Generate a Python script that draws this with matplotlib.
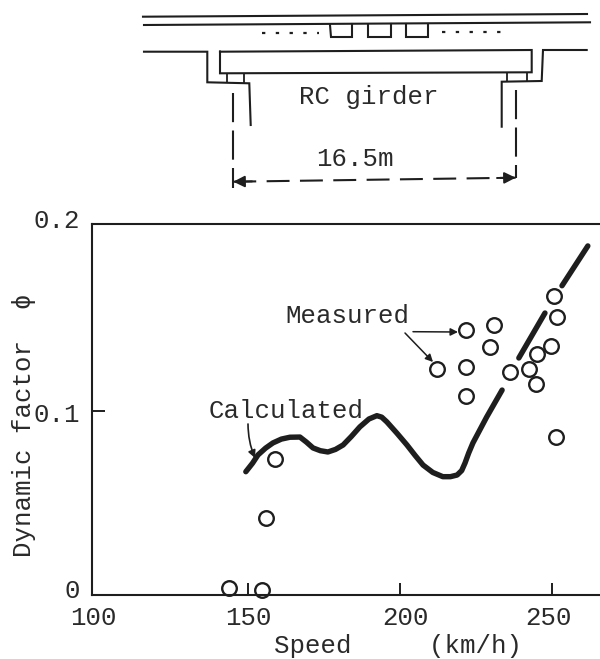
import matplotlib
matplotlib.use('Agg')
from matplotlib import pyplot as plt
from matplotlib.transforms import ScaledTranslation

plt.rcParams['font.family'] = ['Liberation Mono', 'DejaVu Sans Mono']
plt.rcParams['font.size'] = 18.5
INK = '#1e1e1e'

# measured points
measured_speed = [143.8, 154.6, 155.8, 159.0, 221.6, 230.9, 229.6, 212.2, 221.6, 221.6,
                  236.3, 242.4, 244.8, 245.2, 249.8, 250.7, 251.5, 251.4]
measured_phi = [0.0040, 0.0027, 0.0419, 0.0736, 0.1436, 0.1467, 0.1346, 0.1228, 0.1239, 0.1080,
                0.1208, 0.1226, 0.1143, 0.1309, 0.1353, 0.1621, 0.1508, 0.0856]

# calculated curve, broken where the points sit
calc_speed_a = [149.3, 151.5, 153.3, 155.8, 158.2, 161.0, 163.8, 167.1, 169.2, 171.4, 173.8, 176.3, 178.8,
                181.3, 184.0, 186.8, 189.8, 192.4, 194.0, 195.7, 199.0, 202.3, 205.0, 207.6, 210.8, 214.1,
                216.6, 218.8, 220.3, 221.4, 222.6, 224.0, 228.5, 233.6]
calc_phi_a = [0.0669, 0.0715, 0.0760, 0.0797, 0.0825, 0.0846, 0.0856, 0.0857, 0.0830, 0.0798, 0.0783, 0.0776, 0.0790,
              0.0814, 0.0860, 0.0912, 0.0955, 0.0973, 0.0965, 0.0939, 0.0878, 0.0814, 0.0757, 0.0705, 0.0665, 0.0642,
              0.0642, 0.0651, 0.0675, 0.0716, 0.0770, 0.0825, 0.0965, 0.1112]
calc_speed_b = [239.1, 247.7]
calc_phi_b = [0.1286, 0.1530]
calc_speed_c = [253.3, 261.8]
calc_phi_c = [0.1678, 0.1894]

xticks = [100, 150, 200, 250]
xticklabels = ['100', '150', '200', '250']
yticks = [0, 0.1, 0.2]
yticklabels = ['0', '0.1', '0.2']

# sketch of the bridge, in pixels of the picture
rail_top = [(143, 16.7), (587, 14)]
rail_low = [(144, 25), (590, 22.3)]
sleepers = [[(330, 25), (331, 37), (352, 37), (352, 24)],
            [(368, 25), (368, 37), (391, 37), (391, 24)],
            [(406, 24), (406, 37), (428, 37), (428, 24)]]
dots = [[(262, 32.7), (319, 32.7)], [(442, 32), (506, 32)]]
abut_left = [(144, 51.7), (207.3, 51.7), (207.3, 82.3), (249.3, 83.3), (250.7, 125)]
abut_right = [(586.7, 50), (543, 50), (541.7, 81), (501.7, 81.7), (501.7, 126.7)]
girder = [(220, 51.7), (531.7, 50), (531.7, 72.3), (220, 73.3), (220, 51.7)]
bearings = [[(226.7, 74), (226.7, 82)], [(244, 74), (244, 82)],
            [(506.7, 73), (506.7, 81)], [(527.3, 73), (527.3, 81)]]
span_left = [(232.7, 93), (232.7, 188)]
span_right = [(515.7, 90), (515.7, 178)]
span_dim = [(233.3, 181.7), (515.7, 177.7)]

fig = plt.figure(figsize=(6, 6.59), dpi=100)
W, H = 600.0, 659.0
ax = fig.add_axes([92 / W, 1 - 595 / H, (W - 92) / W, (595 - 224) / H])
ax.set_xlim(98.7, 265.8)
ax.set_ylim(0, 0.2013)

for name in ['right']:
	ax.spines[name].set_visible(False)
for name in ['left', 'bottom', 'top']:
	ax.spines[name].set_linewidth(1.5)
	ax.spines[name].set_color(INK)

ax.set_xticks(xticks, xticklabels)
ax.set_yticks(yticks, yticklabels)
ax.tick_params(direction='in', length=9, width=1.4, color=INK, labelcolor='#2a2a2a')
ax.tick_params(axis='x', pad=8)
ax.tick_params(axis='y', pad=8.5)
ax.xaxis.get_major_ticks()[0].tick1line.set_visible(False)
ax.yaxis.get_major_ticks()[0].tick1line.set_visible(False)
ax.yaxis.get_major_ticks()[2].tick1line.set_visible(False)

# printed labels do not sit exactly on their ticks
for label, dx in zip(ax.get_xticklabels(), [-3, 0.5, 6, -3]):
	label.set_transform(label.get_transform() + ScaledTranslation(dx / 100, 0, fig.dpi_scale_trans))
for label, dy in zip(ax.get_yticklabels(), [6, -2, 8]):
	label.set_transform(label.get_transform() + ScaledTranslation(0, dy / 100, fig.dpi_scale_trans))

for sx, sy in [(calc_speed_a, calc_phi_a), (calc_speed_b, calc_phi_b), (calc_speed_c, calc_phi_c)]:
	ax.plot(sx, sy, color=INK, lw=3.9, solid_capstyle='round', solid_joinstyle='round', zorder=2)
ax.plot(measured_speed, measured_phi, ls='none', marker='o', ms=10.5, mew=1.7, mfc='none', mec=INK,
		clip_on=False, zorder=3)

fig.text(24 / W, 1 - 425 / H, 'Dynamic factor  \u03d5', rotation=90, ha='center', va='center', color='#2a2a2a')
fig.text(398 / W, 1 - 646 / H, 'Speed     (km/h)', ha='center', va='center', color='#2a2a2a')

# overlay in picture pixels for the sketch and the callouts
ov = fig.add_axes([0, 0, 1, 1], facecolor='none')
ov.set_xlim(0, W)
ov.set_ylim(H, 0)
ov.axis('off')

def path(points, **kw):
	ov.plot([p[0] for p in points], [p[1] for p in points], color=INK, solid_joinstyle='miter', **kw)

path(rail_top, lw=1.5)
path(rail_low, lw=1.5)
for s in sleepers:
	path(s, lw=1.5)
for d in dots:
	path(d, lw=1.6, ls=(0, (1.5, 4.7)))
for p in [abut_left, abut_right, girder]:
	path(p, lw=1.5)
for b in bearings:
	path(b, lw=1.3)
path(span_left, lw=1.5, ls=(0, (14, 4)))
path(span_right, lw=1.5, ls=(0, (14, 4)))
path(span_dim, lw=1.5, ls=(0, (11, 5)))

for tip, tail in [(span_dim[0], (252, 181.4)), (span_dim[1], (497, 178))]:
	ov.annotate('', xy=tip, xytext=tail, arrowprops=dict(arrowstyle='-|>', color=INK, lw=1.4, mutation_scale=17, shrinkA=0, shrinkB=0))
ov.annotate('', xy=(458, 332), xytext=(413, 331.7), arrowprops=dict(arrowstyle='-|>', color=INK, lw=1.1, mutation_scale=11, shrinkA=0, shrinkB=0))
ov.annotate('', xy=(433, 362), xytext=(405, 333), arrowprops=dict(arrowstyle='-|>', color=INK, lw=1.1, mutation_scale=11, shrinkA=0, shrinkB=0))
ov.annotate('', xy=(255, 458), xytext=(248, 424), arrowprops=dict(arrowstyle='-|>', color=INK, lw=1.2, mutation_scale=11, shrinkA=0, shrinkB=0, connectionstyle='arc3,rad=0.1'))

ov.text(369, 97, 'RC girder', ha='center', va='center', color='#2a2a2a')
ov.text(355, 159, '16.5m', ha='center', va='center', color='#2a2a2a')
ov.text(347, 316, 'Measured', ha='center', va='center', color='#2a2a2a')
ov.text(286, 411, 'Calculated', ha='center', va='center', color='#2a2a2a')

fig.savefig('out.png', dpi=100)
